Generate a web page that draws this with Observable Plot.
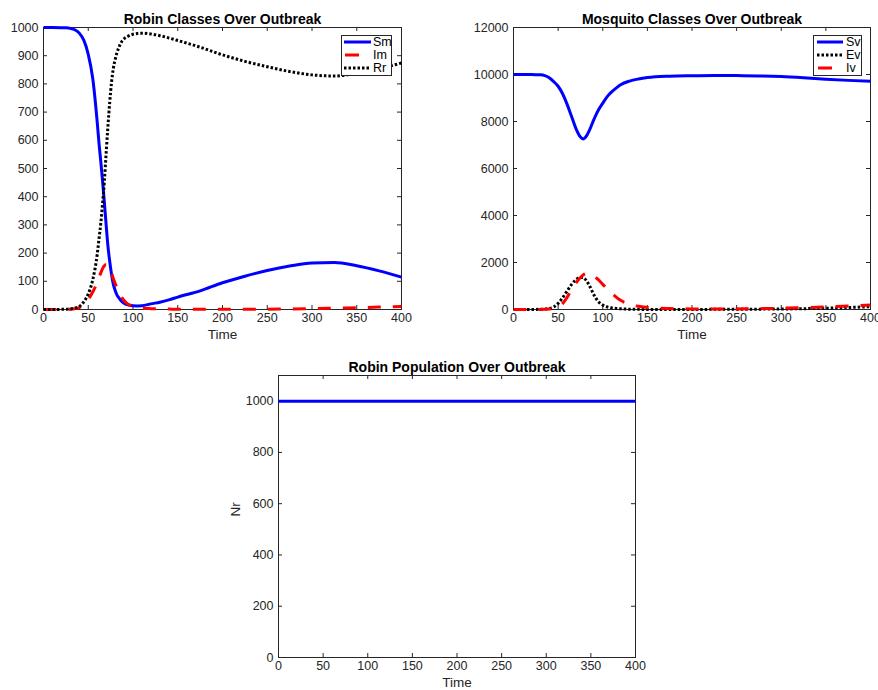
<!DOCTYPE html>
<html><head><meta charset="utf-8">
<script src="https://cdn.jsdelivr.net/npm/d3@7"></script>
<script src="https://cdn.jsdelivr.net/npm/@observablehq/plot@0.6"></script>
<style>
body{margin:0;background:#fff;font-family:"Liberation Sans",Arial,Helvetica,sans-serif;}
#wrap{position:relative;width:878px;height:690px;overflow:hidden;background:#fff;}
.panel{position:absolute;}
.legend{position:absolute;}
</style></head><body><div id="wrap"></div>
<script>
// ---------- data ----------
const xTicks = [0,50,100,150,200,250,300,350,400];
const robinYTicks = [0,100,200,300,400,500,600,700,800,900,1000];
const mosqYTicks = [0,2000,4000,6000,8000,10000,12000];
const popYTicks = [0,200,400,600,800,1000];

const robinTime = [0,10,20,25,30,35,40,45,50,55,60,62,64,66,68,70,72,74,76,78,80,82,84,86,88,90,95,100,105,110,120,130,140,150,175,200,225,250,275,300,325,350,375,400];
const robinSm = [1000,1000,999.5,999,997,992,980,955,905,820,665,590,525,455,380,300,225,170,125,90,68,52,42,34,27,22,16,13,12.5,13,20,26,34,44,66,95,118,138,154,165,167,155,137,115];
const robinIm = [0,0,0,0.5,1,3,7,16,35,62,95,112,130,145,155,160,158,148,130,110,93,78,63,50,40,32,18,11,7,5,3,2,1.5,1,0.7,0.6,0.8,1.2,2,3,4.5,6.5,8.5,11];
const robinRr = [0,0,0.5,1,2,5,11,27,55,105,195,250,305,375,455,555,650,735,805,855,885,910,928,942,953,960,970,976,979,980,977,971,963,954,930,903,880,861,844,832,828,838,854,874];

const mosqTime = [0,10,20,25,30,35,40,45,50,55,60,65,70,75,78,80,82,85,90,95,100,105,110,115,120,130,140,150,175,200,225,250,275,300,325,350,375,400];
const mosqSv = [10000,10000,9998,9994,9985,9950,9860,9700,9500,9180,8740,8220,7700,7340,7260,7300,7400,7620,8080,8480,8780,9060,9260,9420,9560,9720,9810,9870,9930,9950,9960,9955,9940,9910,9860,9800,9750,9710];
const mosqEv = [0,0,1,3,8,18,40,110,260,500,780,1060,1270,1365,1360,1300,1220,1020,630,340,190,110,70,45,30,12,6,4,3,4,6,10,15,22,35,55,85,120];
const mosqIv = [0,0,0,1,3,8,18,45,110,250,510,840,1130,1360,1470,1515,1545,1520,1420,1270,1070,880,700,530,390,220,135,90,40,25,22,25,35,55,80,110,150,190];

const popTime = [0,100,200,300,400];
const popNr = [1000,1000,1000,1000,1000];

// ---------- drawing ----------
const AX = "#262626";
const FONT = '"Liberation Sans", Arial, Helvetica, sans-serif';
const wrap = document.getElementById("wrap");

function rows(time, values) { return time.map((t, i) => ({t, v: values[i]})); }

function panel(cfg) {
  const {left, top, W, H, ml, mt, mr, mb, yDomain, yTicks, series, title, ylabel} = cfg;
  const marks = [
    Plot.frame({stroke: AX, strokeWidth: 1}),
    Plot.tickX(xTicks, {x: d => d, insetTop: H - 4, stroke: AX}),
    Plot.tickX(xTicks, {x: d => d, insetBottom: H - 4, stroke: AX}),
    Plot.tickY(yTicks, {y: d => d, insetRight: W - 4, stroke: AX}),
    Plot.tickY(yTicks, {y: d => d, insetLeft: W - 4, stroke: AX}),
    Plot.axisX({ticks: xTicks, tickSize: 0, tickPadding: 4, tickFormat: d => String(d), fontSize: 12.5, fill: AX, label: null}),
    Plot.axisY({ticks: yTicks, tickSize: 0, tickPadding: 5, tickFormat: d => String(d), fontSize: 12.5, fill: AX, label: null}),
    ...series.map(s => Plot.line(rows(s.time, s.values), {x: "t", y: "v", stroke: s.color, strokeWidth: 3, strokeDasharray: s.dash, strokeLinecap: "butt", curve: "monotone-x"})),
    Plot.text([title], {frameAnchor: "top", dy: -13, fontWeight: "bold", fontSize: 14, fill: "#000"}),
    Plot.text(["Time"], {frameAnchor: "bottom", dy: 29, fontSize: 13.5, fill: AX})
  ];
  if (ylabel) marks.push(Plot.text([ylabel], {frameAnchor: "left", dx: -43, rotate: -90, fontSize: 13.5, fill: AX}));
  const chart = Plot.plot({
    width: ml + W + mr, height: mt + H + mb,
    marginLeft: ml, marginRight: mr, marginTop: mt, marginBottom: mb,
    style: {fontFamily: FONT, fontSize: "12px", background: "transparent", overflow: "visible", color: AX},
    x: {domain: [0, 400]},
    y: {domain: yDomain},
    marks
  });
  const div = document.createElement("div");
  div.className = "panel";
  div.style.left = (left - ml) + "px";
  div.style.top = (top - mt) + "px";
  div.appendChild(chart);
  wrap.appendChild(div);
}

function legend(x, y, w, h, entries, s0, s1, tx) {
  const ns = "http://www.w3.org/2000/svg";
  const svg = document.createElementNS(ns, "svg");
  svg.setAttribute("width", w); svg.setAttribute("height", h);
  svg.setAttribute("class", "legend");
  svg.style.left = x + "px"; svg.style.top = y + "px";
  const r = document.createElementNS(ns, "rect");
  r.setAttribute("x", 0.5); r.setAttribute("y", 0.5); r.setAttribute("width", w - 1); r.setAttribute("height", h - 1);
  r.setAttribute("fill", "#fff"); r.setAttribute("stroke", AX);
  svg.appendChild(r);
  entries.forEach((e, i) => {
    const cy = 7 + i * 13;
    const l = document.createElementNS(ns, "line");
    const dashed = e.dash === DASH;
    l.setAttribute("x1", dashed ? s0 + 1 : s0); l.setAttribute("x2", dashed ? s0 + 15 : s1);
    l.setAttribute("y1", cy); l.setAttribute("y2", cy);
    l.setAttribute("stroke", e.color); l.setAttribute("stroke-width", 3);
    if (e.dash && !dashed) l.setAttribute("stroke-dasharray", e.dash);
    svg.appendChild(l);
    const t = document.createElementNS(ns, "text");
    t.setAttribute("x", tx); t.setAttribute("y", cy + 4.3);
    t.setAttribute("font-size", 12.5); t.setAttribute("font-family", FONT); t.setAttribute("fill", "#000");
    t.textContent = e.label;
    svg.appendChild(t);
  });
  wrap.appendChild(svg);
}

const DASH = "13,12", DOT = "2.5,2";
const robinSeries = [
  {label: "Sm", time: robinTime, values: robinSm, color: "#0000ff", dash: null},
  {label: "Im", time: robinTime, values: robinIm, color: "#ff0000", dash: DASH},
  {label: "Rr", time: robinTime, values: robinRr, color: "#000000", dash: DOT}
];
const mosqSeries = [
  {label: "Sv", time: mosqTime, values: mosqSv, color: "#0000ff", dash: null},
  {label: "Ev", time: mosqTime, values: mosqEv, color: "#000000", dash: DOT},
  {label: "Iv", time: mosqTime, values: mosqIv, color: "#ff0000", dash: DASH}
];
const popSeries = [
  {label: "Nr", time: popTime, values: popNr, color: "#0000ff", dash: null}
];

panel({left: 43, top: 27, W: 358, H: 282, ml: 43, mt: 27, mr: 19, mb: 36,
  yDomain: [0, 1000], yTicks: robinYTicks, series: robinSeries, title: "Robin Classes Over Outbreak"});
panel({left: 513, top: 27, W: 357, H: 282, ml: 50, mt: 27, mr: 8, mb: 36,
  yDomain: [0, 12000], yTicks: mosqYTicks, series: mosqSeries, title: "Mosquito Classes Over Outbreak"});
panel({left: 278, top: 375, W: 357, H: 282, ml: 55, mt: 30, mr: 20, mb: 33,
  yDomain: [0, 1100], yTicks: popYTicks, series: popSeries, title: "Robin Population Over Outbreak", ylabel: "Nr"});

legend(341, 35, 51, 41, robinSeries, 3, 30, 32);
legend(813, 35, 49, 41, mosqSeries, 4, 30, 33);
</script>
</body></html>
